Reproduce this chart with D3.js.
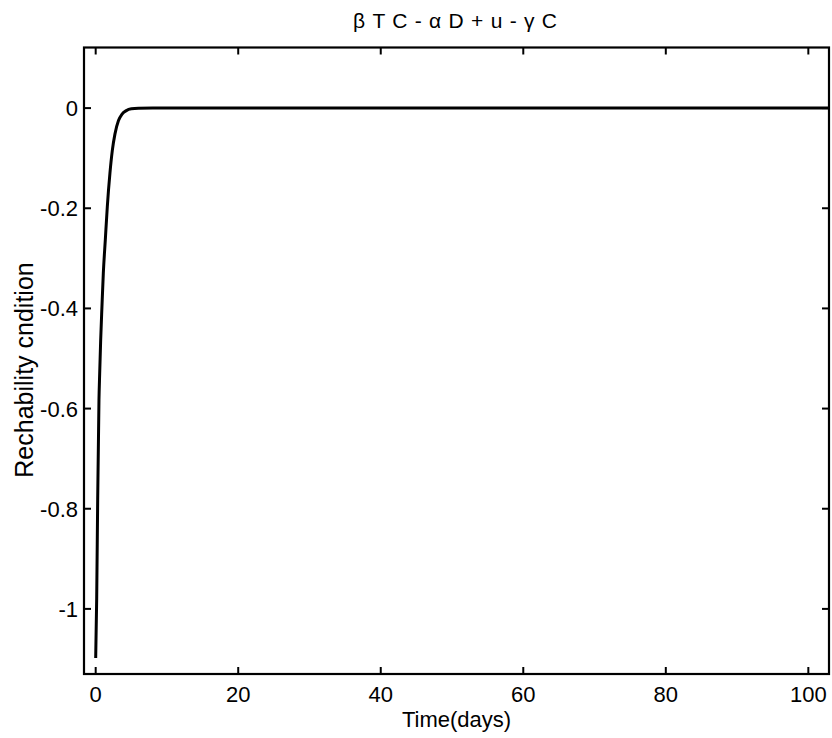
<!DOCTYPE html>
<html><head><meta charset="utf-8">
<script src="https://cdn.jsdelivr.net/npm/d3@7"></script>
<style>body{margin:0;background:#fff}svg{display:block}text{font-family:"Liberation Sans",Arial,sans-serif;fill:#000}</style>
</head><body><svg id="c" width="832" height="738"></svg>
<script>
const timeDays = [0, 0.14, 0.28, 0.46, 0.56, 0.70, 0.88, 1.07, 1.35, 1.63, 2.0, 2.33, 2.7, 3.2, 3.7, 4.3, 5.0, 6.0, 8.0, 10, 20, 40, 60, 80, 100, 102.9];
const condition = [-1.098, -0.98, -0.782, -0.583, -0.53, -0.463, -0.396, -0.33, -0.263, -0.197, -0.13, -0.085, -0.052, -0.025, -0.012, -0.005, -0.0015, -0.0003, 0, 0, 0, 0, 0, 0, 0, 0];
const xTicks = [0, 20, 40, 60, 80, 100];
const yTicks = [0, -0.2, -0.4, -0.6, -0.8, -1];
const yTickLabels = ["0", "-0.2", "-0.4", "-0.6", "-0.8", "-1"];
const titleText = "\u03B2 T C - \u03B1 D + u - \u03B3 C";
const xLabel = "Time(days)";
const yLabel = "Rechability cndition";

const L = 84, R = 829, T = 47.5, B = 674;
const svg = d3.select("#c");
const x = d3.scaleLinear().domain([-1.64, 102.9]).range([L, R]);
const y = d3.scaleLinear().domain([-1.13, 0.121]).range([B, T]);
const tl = 7;

const g = svg.append("g");
const line = d3.line().x((d, i) => x(timeDays[i])).y((d, i) => y(condition[i])).curve(d3.curveMonotoneX);
g.append("path").datum(condition).attr("d", line).attr("fill", "none").attr("stroke", "#000").attr("stroke-width", 3);

g.append("rect").attr("x", L).attr("y", T).attr("width", R - L).attr("height", B - T)
  .attr("fill", "none").attr("stroke", "#000").attr("stroke-width", 2.2);

xTicks.forEach(v => {
  const px = x(v);
  g.append("line").attr("x1", px).attr("x2", px).attr("y1", B).attr("y2", B - tl).attr("stroke", "#000").attr("stroke-width", 2);
  g.append("line").attr("x1", px).attr("x2", px).attr("y1", T).attr("y2", T + tl).attr("stroke", "#000").attr("stroke-width", 2);
  g.append("text").attr("x", px).attr("y", 701.5).attr("text-anchor", "middle").attr("font-size", 22).text(String(v));
});
yTicks.forEach((v, i) => {
  const py = y(v);
  g.append("line").attr("x1", L).attr("x2", L + tl).attr("y1", py).attr("y2", py).attr("stroke", "#000").attr("stroke-width", 2);
  g.append("line").attr("x1", R).attr("x2", R - tl).attr("y1", py).attr("y2", py).attr("stroke", "#000").attr("stroke-width", 2);
  g.append("text").attr("x", 78).attr("y", py + 8).attr("text-anchor", "end").attr("font-size", 22).text(yTickLabels[i]);
});

svg.append("text").attr("x", 353).attr("y", 28).attr("font-size", 21)
  .attr("textLength", 204).attr("lengthAdjust", "spacing").text(titleText);
svg.append("text").attr("x", 456.5).attr("y", 727).attr("text-anchor", "middle").attr("font-size", 22).text(xLabel);
svg.append("text").attr("transform", "translate(33,370) rotate(-90)").attr("text-anchor", "middle").attr("font-size", 25).text(yLabel);
</script></body></html>
